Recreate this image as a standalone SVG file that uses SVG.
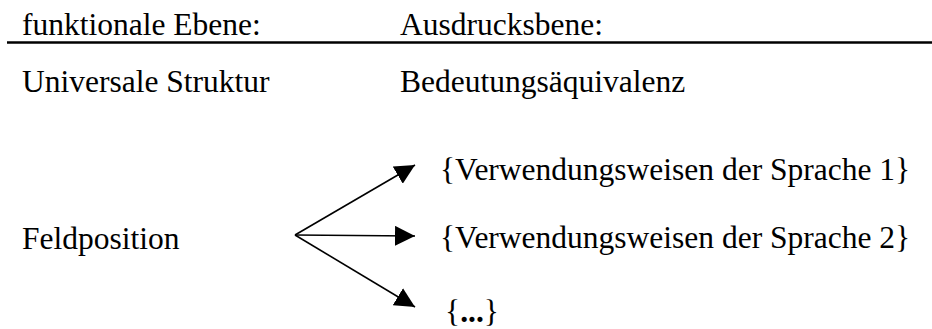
<svg xmlns="http://www.w3.org/2000/svg" width="932" height="329" viewBox="0 0 932 329">
<style>
text{font-family:'Liberation Serif','Times New Roman','DejaVu Serif',serif;font-size:31.5px;fill:#000}
.conn{stroke:#000;stroke-width:1.6;fill:none;marker-end:url(#ah)}
</style>
<defs>
<marker id="ah" markerUnits="userSpaceOnUse" markerWidth="20" markerHeight="20" refX="20" refY="10" orient="auto" viewBox="0 0 20 20">
<path d="M0,0 L20,10 L0,20 z" fill="#000"/>
</marker>
</defs>
<rect width="932" height="329" fill="#fff"/>
<g id="header" font-family="Liberation Serif, serif">
<text x="22" y="35">funktionale Ebene:</text>
<text x="400" y="35">Ausdrucksbene:</text>
<line x1="7" y1="42.5" x2="932" y2="42.5" stroke="#000" stroke-width="2.4"/>
</g>
<g id="universale-struktur"><text x="22" y="92">Universale Struktur</text></g>
<g id="bedeutungsaequivalenz"><text x="400" y="92">Bedeutungsäquivalenz</text></g>
<g id="feldposition"><text x="22" y="249">Feldposition</text></g>
<g id="sprache1"><text x="440" y="180">{Verwendungsweisen der Sprache 1}</text></g>
<g id="sprache2"><text x="440" y="248">{Verwendungsweisen der Sprache 2}</text></g>
<g id="weitere"><text x="445" y="322">{<tspan font-weight="bold">...</tspan>}</text></g>
<g id="connectors">
<line class="conn" x1="295" y1="235" x2="415" y2="165"/>
<line class="conn" x1="295" y1="235" x2="415" y2="236"/>
<line class="conn" x1="295" y1="235" x2="415" y2="307"/>
</g>
</svg>
